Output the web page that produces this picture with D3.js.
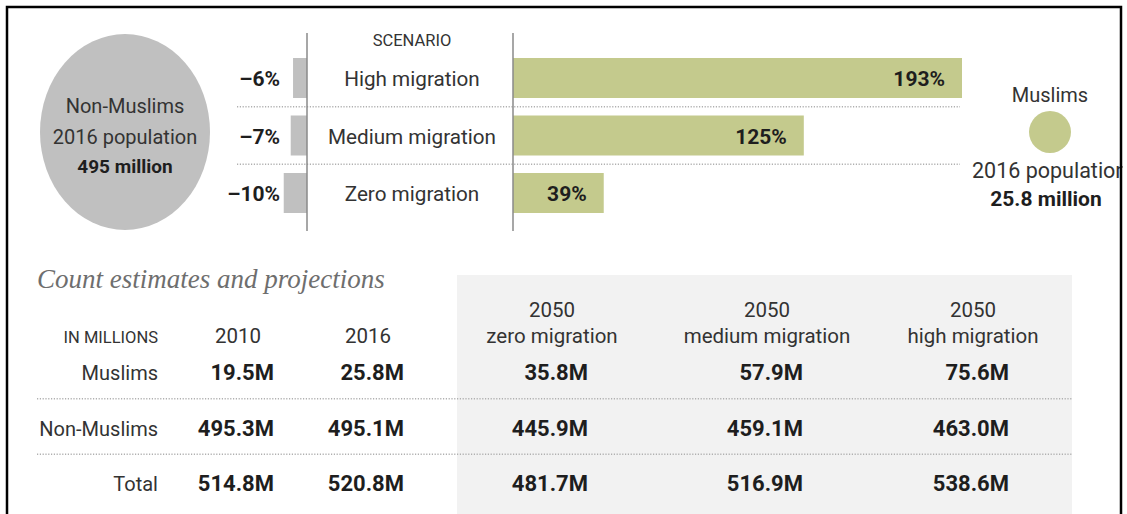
<!DOCTYPE html>
<html>
<head>
<meta charset="utf-8">
<script src="https://cdn.jsdelivr.net/npm/d3@7"></script>
<style>
  html, body { margin: 0; padding: 0; background: #fff; }
  svg { display: block; font-family: Roboto, "Liberation Sans", sans-serif; }
</style>
</head>
<body>
<svg id="chart" width="1127" height="514"></svg>
<script>
// Percent change in population, 2016 to 2050, by migration scenario
const scenarios = ["High migration", "Medium migration", "Zero migration"];
const nonMuslimChange = [-6, -7, -10];
const muslimChange = [193, 125, 39];

// 2016 population bubbles
const nonMuslimPop2016 = 495;   // million
const muslimPop2016 = 25.8;     // million

// Count estimates and projections (in millions)
const columnTop = ["", "", "2050", "2050", "2050"];
const columnBottom = ["2010", "2016", "zero migration", "medium migration", "high migration"];
const rowLabels = ["Muslims", "Non-Muslims", "Total"];
const muslimCounts = [19.5, 25.8, 35.8, 57.9, 75.6];
const nonMuslimCounts = [495.3, 495.1, 445.9, 459.1, 463.0];
const totalCounts = [514.8, 520.8, 481.7, 516.9, 538.6];

const svg = d3.select("#chart");
const W = 1127, H = 514;

const GRAY = "#c0c0c0";
const GREEN = "#c4ca8d";
const DOT = "#b0b0b0";
const INK = "#333";
const DARK = "#1e1e1e";

// ---------- scenario bar section ----------
const negZero = 307, posZero = 513;
const pxPerPct = 449 / 193;
const xPos = d3.scaleLinear().domain([0, d3.max(muslimChange)]).range([posZero, posZero + pxPerPct * d3.max(muslimChange)]);
const xNeg = d3.scaleLinear().domain([d3.min(nonMuslimChange), 0]).range([negZero + pxPerPct * d3.min(nonMuslimChange), negZero]);
const yRow = d3.scalePoint().domain(scenarios).range([78, 193]);
const barH = 40;

// dotted row separators
const seps = d3.pairs(scenarios).map(([a, b]) => (yRow(a) + yRow(b)) / 2);
svg.append("g").selectAll("line").data(seps).join("line")
  .attr("x1", 237).attr("x2", 960)
  .attr("y1", d => d).attr("y2", d => d)
  .attr("stroke", DOT).attr("stroke-width", 1.5).attr("stroke-dasharray", "1.2 1.6");

// non-Muslim bubble
svg.append("ellipse")
  .attr("cx", 125).attr("cy", 132).attr("rx", 85).attr("ry", 98)
  .attr("fill", GRAY);
const nmText = svg.append("text").attr("text-anchor", "middle").attr("fill", INK).attr("font-size", 20);
nmText.append("tspan").attr("x", 125).attr("y", 113).text("Non-Muslims");
nmText.append("tspan").attr("x", 125).attr("y", 144).text("2016 population");
nmText.append("tspan").attr("x", 125).attr("y", 173).attr("font-weight", "bold").attr("fill", DARK)
  .attr("font-size", 19).text(`${nonMuslimPop2016} million`);

// non-Muslim change bars
svg.append("g").selectAll("rect").data(nonMuslimChange).join("rect")
  .attr("x", d => xNeg(d))
  .attr("y", (d, i) => yRow(scenarios[i]) - barH / 2)
  .attr("width", d => xNeg(0) - xNeg(d))
  .attr("height", barH)
  .attr("fill", GRAY);
svg.append("g").selectAll("text").data(nonMuslimChange).join("text")
  .attr("x", 280)
  .attr("y", (d, i) => yRow(scenarios[i]) + 8)
  .attr("text-anchor", "end")
  .attr("font-size", 21).attr("font-weight", "bold").attr("fill", DARK)
  .text(d => `\u2013${Math.abs(d)}%`);

// Muslim change bars
svg.append("g").selectAll("rect").data(muslimChange).join("rect")
  .attr("x", xPos(0))
  .attr("y", (d, i) => yRow(scenarios[i]) - barH / 2)
  .attr("width", d => xPos(d) - xPos(0))
  .attr("height", barH)
  .attr("fill", GREEN);
svg.append("g").selectAll("text").data(muslimChange).join("text")
  .attr("x", d => xPos(d) - 17)
  .attr("y", (d, i) => yRow(scenarios[i]) + 8)
  .attr("text-anchor", "end")
  .attr("font-size", 21).attr("font-weight", "bold").attr("fill", DARK)
  .text(d => `${d}%`);

// axis baselines
svg.append("g").selectAll("line").data([negZero, posZero]).join("line")
  .attr("x1", d => d).attr("x2", d => d)
  .attr("y1", 33).attr("y2", 231)
  .attr("stroke", "#8a8a8a").attr("stroke-width", 1.5);

// scenario labels
const midX = (negZero + posZero) / 2 + 2;
svg.append("text").attr("x", midX).attr("y", 46).attr("text-anchor", "middle")
  .attr("font-size", 16.5).attr("fill", INK).text("SCENARIO");
svg.append("g").selectAll("text").data(scenarios).join("text")
  .attr("x", midX)
  .attr("y", d => yRow(d) + 8)
  .attr("text-anchor", "middle")
  .attr("font-size", 20.7).attr("fill", INK)
  .text(d => d);

// Muslim bubble
svg.append("text").attr("x", 1050).attr("y", 102).attr("text-anchor", "middle")
  .attr("font-size", 20).attr("fill", INK).text("Muslims");
svg.append("circle").attr("cx", 1050).attr("cy", 132).attr("r", 21).attr("fill", GREEN);
svg.append("text").attr("x", 972).attr("y", 178).attr("text-anchor", "start")
  .attr("font-size", 21.5).attr("fill", INK).text("2016 population");
svg.append("text").attr("x", 1046).attr("y", 206).attr("text-anchor", "middle")
  .attr("font-size", 21).attr("font-weight", "bold").attr("fill", DARK)
  .text(`${muslimPop2016} million`);

// ---------- table section ----------
svg.append("rect").attr("x", 457).attr("y", 275).attr("width", 1072 - 457).attr("height", 240)
  .attr("fill", "#f2f2f2");

svg.append("text").attr("x", 37).attr("y", 288)
  .style("font-family", "'Liberation Serif', 'DejaVu Serif', serif")
  .attr("font-style", "italic").attr("font-size", 27).attr("fill", "#6e6e6e")
  .text("Count estimates and projections");

const colCenter = [238, 368, 552, 767, 973];
const valueRight = colCenter.map(c => c + 36);
const labelRight = 158;
const headerY = 343;
const rowY = d3.scalePoint().domain(rowLabels).range([380, 491]);

svg.append("text").attr("x", labelRight).attr("y", headerY).attr("text-anchor", "end")
  .attr("font-size", 16.5).attr("fill", INK).text("IN MILLIONS");

const headers = svg.append("g").selectAll("text").data(columnBottom).join("text")
  .attr("text-anchor", "middle").attr("font-size", 20.5).attr("fill", INK);
headers.filter((d, i) => columnTop[i] !== "").append("tspan")
  .attr("x", d => colCenter[columnBottom.indexOf(d)])
  .attr("y", headerY - 26)
  .text(d => columnTop[columnBottom.indexOf(d)]);
headers.append("tspan")
  .attr("x", (d, i) => colCenter[i])
  .attr("y", headerY)
  .text(d => d);

// row separators
const rowSeps = d3.pairs(rowLabels).map(([a, b]) => (rowY(a) + rowY(b)) / 2 - 9);
svg.append("g").selectAll("line").data(rowSeps).join("line")
  .attr("x1", 37).attr("x2", 1072)
  .attr("y1", d => d).attr("y2", d => d)
  .attr("stroke", DOT).attr("stroke-width", 1.5).attr("stroke-dasharray", "1.2 1.6");

svg.append("g").selectAll("text").data(rowLabels).join("text")
  .attr("x", labelRight).attr("y", d => rowY(d))
  .attr("text-anchor", "end").attr("font-size", 20).attr("fill", INK)
  .text(d => d);

const rows = [muslimCounts, nonMuslimCounts, totalCounts];
rows.forEach((vals, r) => {
  svg.append("g").selectAll("text").data(vals).join("text")
    .attr("x", (d, i) => valueRight[i])
    .attr("y", rowY(rowLabels[r]))
    .attr("text-anchor", "end")
    .attr("font-size", 22).attr("font-weight", "bold").attr("fill", DARK)
    .text(d => `${d.toFixed(1)}M`);
});

// ---------- frame ----------
svg.append("rect").attr("x", 1122.5).attr("y", 0).attr("width", 5).attr("height", H).attr("fill", "#fff");
svg.append("path")
  .attr("d", `M7,${H} V7 H1121 V${H}`)
  .attr("fill", "none").attr("stroke", "#000").attr("stroke-width", 2.5);
</script>
</body>
</html>
